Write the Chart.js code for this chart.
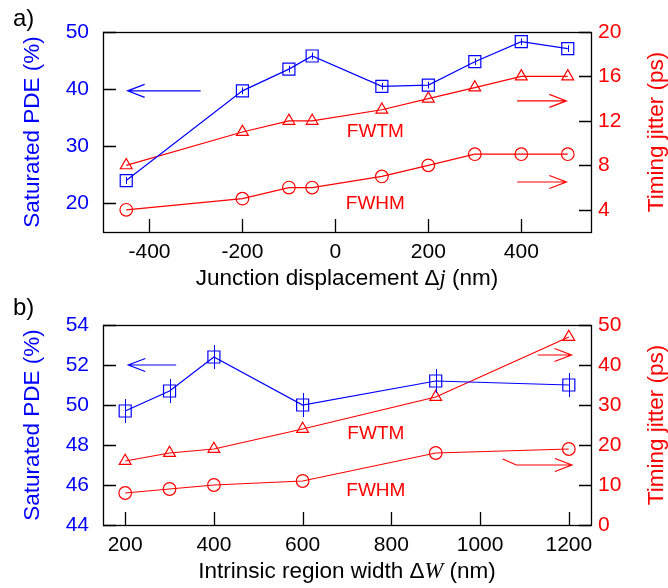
<!DOCTYPE html>
<html>
<head>
<meta charset="utf-8">
<script src="https://cdn.jsdelivr.net/npm/chart.js@4"></script>
<style>
  body { margin: 0; background: #fff; }
  canvas { display: block; }
</style>
</head>
<body>
<canvas id="chart-a" width="668" height="294"></canvas>
<canvas id="chart-b" width="668" height="294"></canvas>
<script>
// panel a) junction displacement
const xA = [-450, -200, -100, -50, 100, 200, 300, 400, 500]
const pdeA = [24.0, 39.7, 43.5, 45.8, 40.5, 40.7, 44.8, 48.3, 47.1]
const pdeErrA = [0.6, 0.6, 0.6, 0.6, 0.6, 0.6, 0.6, 0.6, 0.6]
const fwtmA = [8, 11, 12, 12, 13, 14, 15, 16, 16]
const fwhmA = [4, 5, 6, 6, 7, 8, 9, 9, 9]
const xTicksA = [-400, -200, 0, 200, 400]
const pdeTicksA = [20, 30, 40, 50]
const jitTicksA = [4, 8, 12, 16, 20]

// panel b) intrinsic region width
const xB = [200, 300, 400, 600, 900, 1200]
const pdeB = [49.7, 50.7, 52.4, 50.0, 51.2, 51.0]
const pdeErrB = [0.6, 0.6, 0.6, 0.6, 0.6, 0.6]
const fwtmB = [16, 18, 19, 24, 32, 47]
const fwhmB = [8, 9, 10, 11, 18, 19]
const xTicksB = [200, 400, 600, 800, 1000, 1200]
const pdeTicksB = [44, 46, 48, 50, 52, 54]
const jitTicksB = [0, 10, 20, 30, 40, 50]

const BLUE = "#0000ff"
const RED = "#ff0000"
const FONT = "'Liberation Sans', Arial, sans-serif"

Chart.defaults.font.family = FONT
Chart.defaults.font.size = 21

function pts(xs, ys) {
  return xs.map((x, i) => ({ x: x, y: ys[i] }))
}

function setTicks(list) {
  return function (scale) {
    scale.ticks = list.map(v => ({ value: v }))
  }
}

function plain(v) {
  return String(v)
}

function drawArrow(ctx, p, color) {
  ctx.save()
  ctx.strokeStyle = color
  ctx.lineWidth = 1.2
  ctx.beginPath()
  ctx.moveTo(p[0][0], p[0][1])
  for (let i = 1; i < p.length; i++) ctx.lineTo(p[i][0], p[i][1])
  let a = p[p.length - 1], b = p[p.length - 2]
  let ang = Math.atan2(a[1] - b[1], a[0] - b[0])
  ctx.moveTo(a[0] - 17 * Math.cos(ang) - 6.5 * Math.sin(ang), a[1] - 17 * Math.sin(ang) + 6.5 * Math.cos(ang))
  ctx.lineTo(a[0], a[1])
  ctx.lineTo(a[0] - 17 * Math.cos(ang) + 6.5 * Math.sin(ang), a[1] - 17 * Math.sin(ang) - 6.5 * Math.cos(ang))
  ctx.stroke()
  ctx.restore()
}

// frame, inward ticks, error bars, arrows and text labels
const extrasPlugin = {
  id: "extras",
  afterDatasetsDraw(chart, args, opts) {
    let ctx = chart.ctx
    let x = chart.scales.x, yL = chart.scales.yL
    ctx.save()
    ctx.strokeStyle = BLUE
    ctx.lineWidth = 1
    opts.xs.forEach((v, i) => {
      let px = Math.round(x.getPixelForValue(v)) + 0.5
      ctx.beginPath()
      ctx.moveTo(px, yL.getPixelForValue(opts.pde[i] - opts.err[i]))
      ctx.lineTo(px, yL.getPixelForValue(opts.pde[i] + opts.err[i]))
      ctx.stroke()
    })
    ctx.restore()
  },
  afterDraw(chart, args, opts) {
    let ctx = chart.ctx
    let a = chart.chartArea
    let x = chart.scales.x, yL = chart.scales.yL, yR = chart.scales.yR
    ctx.save()
    ctx.strokeStyle = "#000"
    ctx.lineWidth = 1.3
    ctx.strokeRect(Math.round(a.left) + 0.5, Math.round(a.top) + 0.5, Math.round(a.right - a.left), Math.round(a.bottom - a.top))
    ctx.beginPath()
    x.ticks.forEach(t => {
      let px = Math.round(x.getPixelForValue(t.value)) + 0.5
      ctx.moveTo(px, a.bottom)
      ctx.lineTo(px, a.bottom - 13)
    })
    yL.ticks.forEach(t => {
      let py = Math.round(yL.getPixelForValue(t.value)) + 0.5
      ctx.moveTo(a.left, py)
      ctx.lineTo(a.left + 13, py)
    })
    yR.ticks.forEach(t => {
      let py = Math.round(yR.getPixelForValue(t.value)) + 0.5
      ctx.moveTo(a.right, py)
      ctx.lineTo(a.right - 12, py)
    })
    ctx.stroke()

    opts.arrows.forEach(ar => {
      let sc = chart.scales[ar.axis]
      drawArrow(ctx, ar.pts.map(p => [x.getPixelForValue(p[0]), sc.getPixelForValue(p[1])]), ar.color)
    })

    ctx.fillStyle = RED
    ctx.font = "19px " + FONT
    ctx.textAlign = "center"
    ctx.textBaseline = "middle"
    opts.labels.forEach(l => {
      ctx.fillText(l.text, x.getPixelForValue(l.x), yR.getPixelForValue(l.y))
    })

    // right axis title, reading bottom to top
    ctx.save()
    ctx.translate(657, (a.top + a.bottom) / 2)
    ctx.rotate(-Math.PI / 2)
    ctx.font = "22.5px " + FONT
    ctx.fillText("Timing jitter (ps)", 0, 0)
    ctx.restore()

    // x axis title with italic symbol
    let parts = opts.xTitle
    let widths = parts.map(p => {
      ctx.font = p.font
      return ctx.measureText(p.text).width
    })
    let total = widths.reduce((s, w) => s + w, 0)
    let cx = (a.left + a.right) / 2 - total / 2
    ctx.fillStyle = "#000"
    ctx.textAlign = "left"
    ctx.textBaseline = "alphabetic"
    parts.forEach((p, i) => {
      ctx.font = p.font
      ctx.fillText(p.text, cx, a.bottom + 53)
      cx += widths[i]
    })

    ctx.font = "24px " + FONT
    ctx.fillText(opts.panel, 13, opts.panelY)
    ctx.restore()
  },
}

function makeChart(id, cfg) {
  let ctx = document.getElementById(id).getContext("2d")
  return new Chart(ctx, {
    type: "line",
    data: {
      datasets: [
        {
          label: "PDE",
          data: pts(cfg.xs, cfg.pde),
          yAxisID: "yL",
          borderColor: BLUE,
          backgroundColor: "rgba(0,0,0,0)",
          borderWidth: 1.2,
          pointStyle: "rect",
          pointRadius: 8.5,
          pointBorderWidth: 1.2,
          tension: 0,
        },
        {
          label: "FWTM",
          data: pts(cfg.xs, cfg.fwtm),
          yAxisID: "yR",
          borderColor: RED,
          backgroundColor: "rgba(0,0,0,0)",
          borderWidth: 1.2,
          pointStyle: "triangle",
          pointRadius: 6.8,
          pointBorderWidth: 1.2,
          tension: 0,
        },
        {
          label: "FWHM",
          data: pts(cfg.xs, cfg.fwhm),
          yAxisID: "yR",
          borderColor: RED,
          backgroundColor: "rgba(0,0,0,0)",
          borderWidth: 1.2,
          pointStyle: "circle",
          pointRadius: 6.3,
          pointBorderWidth: 1.2,
          tension: 0,
        },
      ],
    },
    options: {
      responsive: false,
      animation: false,
      layout: { padding: { top: cfg.top, left: 0, right: 0, bottom: 0 } },
      plugins: {
        legend: { display: false },
        tooltip: { enabled: false },
        extras: {
          xs: cfg.xs,
          pde: cfg.pde,
          err: cfg.err,
          arrows: cfg.arrows,
          labels: cfg.labels,
          xTitle: cfg.xTitle,
          panel: cfg.panel,
          panelY: cfg.panelY,
        },
      },
      scales: {
        x: {
          type: "linear",
          min: cfg.xMin,
          max: cfg.xMax,
          afterBuildTicks: setTicks(cfg.xTicks),
          afterFit: s => { s.height = 294 - cfg.bottom },
          grid: { display: false, drawTicks: false },
          border: { display: false },
          ticks: { color: "#000", padding: 8, maxRotation: 0, callback: plain },
        },
        yL: {
          position: "left",
          min: cfg.lMin,
          max: cfg.lMax,
          afterBuildTicks: setTicks(cfg.lTicks),
          afterFit: s => { s.width = 103 },
          grid: { display: false, drawTicks: false },
          border: { display: false },
          ticks: { color: BLUE, padding: 14, callback: plain },
          title: {
            display: true,
            text: "Saturated PDE (%)",
            color: BLUE,
            font: { size: 22.5, lineHeight: 1 },
            padding: { top: 22, bottom: 0 },
          },
        },
        yR: {
          position: "right",
          min: cfg.rMin,
          max: cfg.rMax,
          afterBuildTicks: setTicks(cfg.rTicks),
          afterFit: s => { s.width = 77 },
          grid: { display: false, drawTicks: false },
          border: { display: false },
          ticks: { color: RED, padding: 7, callback: plain },
        },
      },
    },
    plugins: [extrasPlugin],
  })
}

makeChart("chart-a", {
  xs: xA, pde: pdeA, err: pdeErrA, fwtm: fwtmA, fwhm: fwhmA,
  xTicks: xTicksA, lTicks: pdeTicksA, rTicks: jitTicksA,
  xMin: -500, xMax: 550, lMin: 15, lMax: 50, rMin: 2, rMax: 20,
  top: 32, bottom: 232,
  panel: "a)", panelY: 26,
  arrows: [
    { axis: "yL", color: BLUE, pts: [[-290, 39.7], [-447, 39.7]] },
    { axis: "yR", color: RED, pts: [[391, 13.8], [497, 13.8]] },
    { axis: "yR", color: RED, pts: [[391, 6.5], [497, 6.5]] },
  ],
  labels: [
    { text: "FWTM", x: 86, y: 11.0 },
    { text: "FWHM", x: 86, y: 4.5 },
  ],
  xTitle: [
    { text: "Junction displacement \u0394", font: "22.5px " + FONT },
    { text: "j", font: "italic 22.5px 'Liberation Serif', serif" },
    { text: " (nm)", font: "22.5px " + FONT },
  ],
})

makeChart("chart-b", {
  xs: xB, pde: pdeB, err: pdeErrB, fwtm: fwtmB, fwhm: fwhmB,
  xTicks: xTicksB, lTicks: pdeTicksB, rTicks: jitTicksB,
  xMin: 150, xMax: 1250, lMin: 44, lMax: 54, rMin: 0, rMax: 50,
  top: 31, bottom: 231,
  panel: "b)", panelY: 21,
  arrows: [
    { axis: "yL", color: BLUE, pts: [[315, 52], [207, 52]] },
    { axis: "yR", color: RED, pts: [[1130, 42.5], [1206, 42.5]] },
    { axis: "yR", color: RED, pts: [[1051, 16.5], [1082, 15], [1207, 15]] },
  ],
  labels: [
    { text: "FWTM", x: 765, y: 22.75 },
    { text: "FWHM", x: 765, y: 8.5 },
  ],
  xTitle: [
    { text: "Intrinsic region width \u0394", font: "22.5px " + FONT },
    { text: "W", font: "italic 22.5px 'Liberation Serif', serif" },
    { text: " (nm)", font: "22.5px " + FONT },
  ],
})
</script>
</body>
</html>
